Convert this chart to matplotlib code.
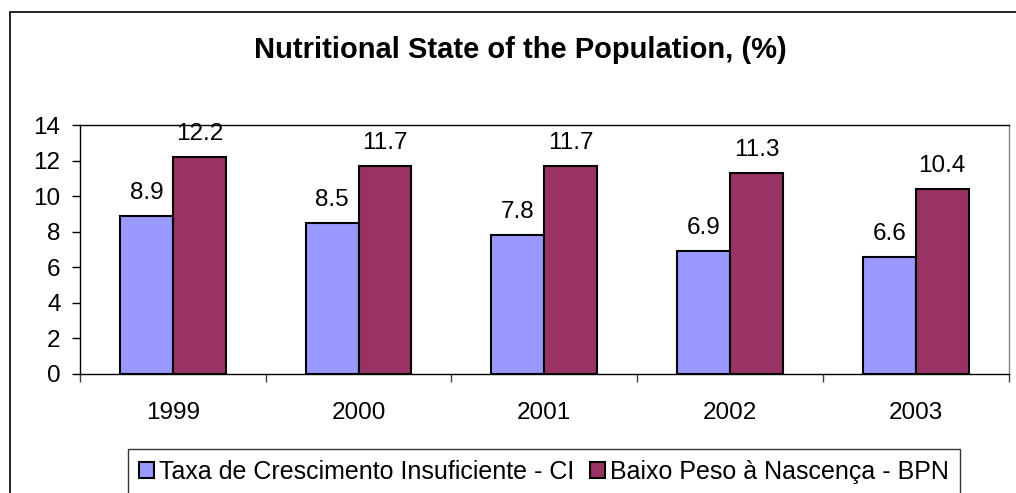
import matplotlib
matplotlib.use("Agg")
import matplotlib.pyplot as plt
import numpy as np
from matplotlib.patches import Rectangle

years = ["1999", "2000", "2001", "2002", "2003"]
ci_values = [8.9, 8.5, 7.8, 6.9, 6.6]
bpn_values = [12.2, 11.7, 11.7, 11.3, 10.4]
series_names = ["Taxa de Crescimento Insuficiente - CI", "Baixo Peso à Nascença - BPN"]
title = "Nutritional State of the Population, (%)"

plt.rcParams['font.family'] = ['Liberation Sans', 'DejaVu Sans']

W, H = 1016, 493
fig = plt.figure(figsize=(W/100, H/100), dpi=100)
fig.patch.set_facecolor('white')

# outer chart border (left & top visible)
fig.patches.append(Rectangle((9.5/W, -0.1), 1.2, 1 - 12/H + 0.1, transform=fig.transFigure,
                             fill=False, edgecolor='black', linewidth=1.2, clip_on=False))

ax = fig.add_axes([80/W, 1 - 374/H, (1008.5-80)/W, (374-125)/H])

x = np.arange(len(years))
bw = 0.285
b1 = ax.bar(x - bw/2, ci_values, bw, color='#9999FF', edgecolor='black', linewidth=1.5, label=series_names[0])
b2 = ax.bar(x + bw/2, bpn_values, bw, color='#993366', edgecolor='black', linewidth=1.5, label=series_names[1])

FS = 17.5
for bars, vals in ((b1, ci_values), (b2, bpn_values)):
    for r, v in zip(bars, vals):
        ax.annotate(f"{v:.1f}", (r.get_x() + r.get_width()/2, v), xytext=(0, 8.5),
                    textcoords='offset points', ha='center', va='bottom', fontsize=FS)

ax.set_xlim(-0.5, len(years) - 0.5)
ax.set_ylim(0, 14)
ax.set_yticks(range(0, 15, 2))
ax.tick_params(axis='y', direction='out', length=6, width=1, labelsize=FS, pad=8)
ax.set_xticks(np.arange(-0.5, len(years), 1.0))
ax.set_xticklabels([])
ax.set_xticks(x, minor=True)
ax.set_xticklabels(years, minor=True)
ax.tick_params(axis='x', which='major', direction='out', length=6, width=1, color='#404040')
ax.tick_params(axis='x', which='minor', length=0, labelsize=FS, pad=20)

ax.spines['left'].set_color('black')
ax.spines['bottom'].set_color('black')
ax.spines['top'].set_color('black')
ax.spines['right'].set_color('#808080')
for s in ax.spines.values():
    s.set_linewidth(1)

fig.text(520/W, 1 - 50/H, title, ha='center', va='center', fontsize=21, fontweight='bold')

leg = fig.legend(handles=[b1, b2], labels=series_names, loc='center', bbox_to_anchor=(544/W, 1 - 472/H),
                 ncol=2, frameon=True, fancybox=False, fontsize=18, handlelength=0.6, handleheight=0.6,
                 handletextpad=0.2, columnspacing=0.6, borderpad=0.45, borderaxespad=0)
leg.get_frame().set_edgecolor('black')
leg.get_frame().set_linewidth(1)

fig.savefig("out.png", dpi=100, facecolor='white')
